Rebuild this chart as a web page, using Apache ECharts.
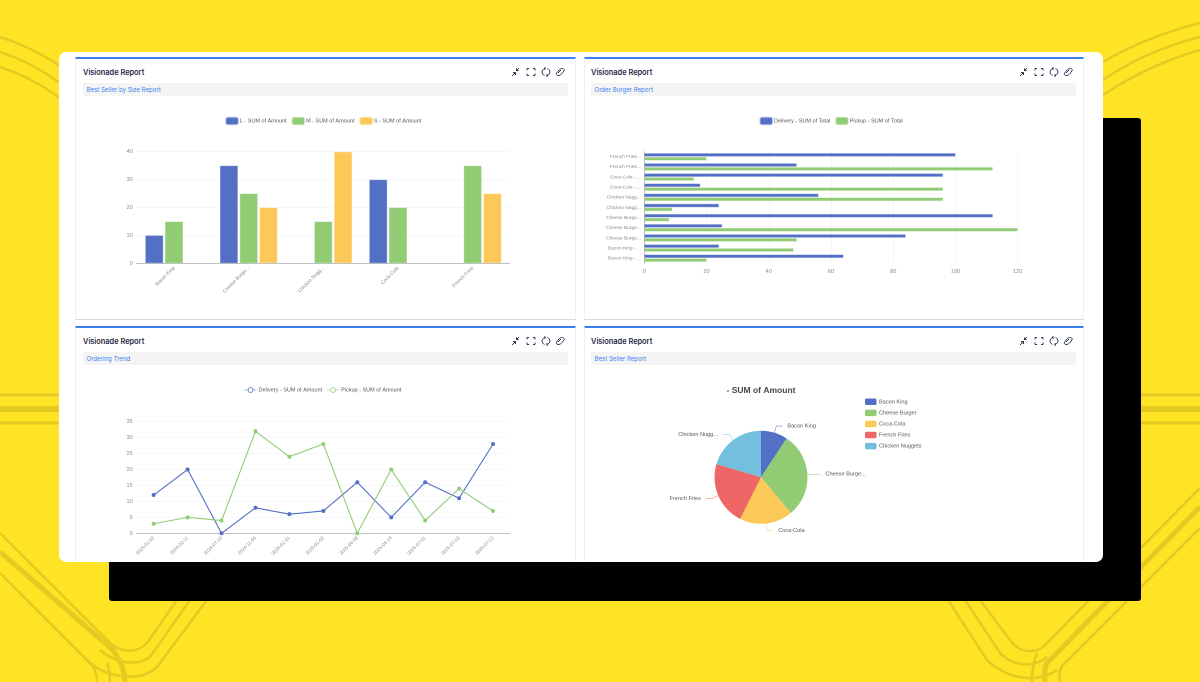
<!DOCTYPE html>
<html><head><meta charset="utf-8">
<style>
html,body{margin:0;padding:0;width:1200px;height:682px;overflow:hidden;background:#FFE325;font-family:Inter,"Liberation Sans",sans-serif}
#deco{position:absolute;left:0;top:0}
.black{position:absolute;left:109px;top:118px;width:1032px;height:483px;background:#000;border-radius:3px}
.card{position:absolute;left:59px;top:52px;width:1044px;height:510px;background:#fff;border-radius:7px;overflow:hidden}
.panel{position:absolute;box-sizing:border-box;width:501px;border-top:2px solid #3B82F0;border-left:1px solid #f0f0f2;border-right:1px solid #f0f0f2;background:#fff}
.p1{left:16px;top:5px;height:263px;border-bottom:1px solid #d9d9d9}
.p2{left:525px;width:500px;top:5px;height:263px;border-bottom:1px solid #d9d9d9}
.p3{left:16px;top:274px;height:240px}
.p4{left:525px;width:500px;top:274px;height:240px}
.t{position:absolute;left:7px;top:7.5px;font-size:7.4px;line-height:11px;font-weight:600;color:#1f2a44}
.s{position:absolute;left:7px;top:24px;width:485px;height:13px;background:#f4f4f4;color:#3b82f0;font-size:6.1px;line-height:13px;text-indent:3.5px}
.p2 .t,.p4 .t,.p2 .s,.p4 .s{left:6px}
.ic{position:absolute;left:435px;top:7.5px}
.p2 .ic,.p4 .ic{left:434px}
#chart{position:absolute;left:0;top:0;width:1200px;height:682px}
</style></head><body>
<svg id="deco" width="1200" height="682" fill="none" stroke="#E3CB22" stroke-width="2.5">
<path d="M0 37C22 44 42 54 60 66M0 52C22 59 42 70 60 83M0 67C22 74 42 85 60 98"/>
<path d="M1200 23C1165 32 1132 45 1103 62M1200 37C1165 46 1132 60 1103 80M1200 50C1165 60 1132 76 1103 95"/>
<path stroke-width="3" d="M0 395H60M0 423H60M1140 395H1200M1140 423H1200"/>
<path stroke-width="6" d="M0 409H60M1140 409H1200"/>
<path d="M0 533L110 643C118 651 136 655 147 643L177 600"/>
<path d="M0 573L90 663C95 668 97 675 97 682M107 663C110 670 110 676 110 682"/>
<path d="M100 650C112 661 135 668 150 657L190 600"/>
<path d="M90 663C105 676 140 684 157 667L207 600"/>
<path stroke-width="5" d="M0 552L113 650C120 660 125 672 125 682"/>
<path d="M1200 488L1043 647C1032 654 1018 652 1010 640L980 600"/>
<path d="M1200 528L1062 666C1058 672 1060 678 1060 682M1037 653C1032 665 1032 675 1032 682"/>
<path d="M965 600L1000 653C1015 668 1035 667 1047 657"/>
<path d="M948 600L987 660C1010 682 1040 682 1057 670"/>
<path stroke-width="5" d="M1200 507L1047 663C1043 670 1045 677 1045 682"/>
</svg>
<div class="black"></div>
<div class="card">
<div class="panel p1"><div class="t">Visionade Report</div><div class="s">Best Seller by Size Report</div></div>
<div class="panel p2"><div class="t">Visionade Report</div><div class="s">Order Burger Report</div></div>
<div class="panel p3"><div class="t">Visionade Report</div><div class="s">Ordering Trend</div></div>
<div class="panel p4"><div class="t">Visionade Report</div><div class="s">Best Seller Report</div></div>
</div>
<div id="chart"></div>
<script src="https://cdn.jsdelivr.net/npm/echarts@6/dist/echarts.min.js"></script>
<script>
// ---- data ----
const sizeCategories = ['Bacon King','Cheese Burge...','Chicken Nugg...','Coca-Cola','French Fries'];
const sizeL = [10,35,null,30,null];
const sizeM = [15,25,15,20,35];
const sizeS = [null,20,40,null,25];
const orderCategories = ['French Fries...','French Fries...','Coca-Cola - ...','Coca-Cola - ...','Chicken Nugg...','Chicken Nugg...','Cheese Burge...','Cheese Burge...','Cheese Burge...','Bacon King - ...','Bacon King - ...'];
const orderDelivery = [100,49,96,18,56,24,112,25,84,24,64];
const orderPickup = [20,112,16,96,96,9,8,120,49,48,20];
const trendDates = ['2023-01-02','2024-02-11','2024-07-10','2024-11-06','2025-01-01','2025-01-02','2025-04-08','2025-04-14','2025-07-01','2025-07-02','2025-07-12'];
const trendDelivery = [12,20,0,8,6,7,16,5,16,11,28];
const trendPickup = [3,5,4,32,24,28,0,20,4,14,7];
const pieNames = ['Bacon King','Cheese Burger','Coca-Cola','French Fries','Chicken Nuggets'];
const pieShort = ['Bacon King','Cheese Burge...','Coca-Cola','French Fries','Chicken Nugg...'];
const pieValues = [25,80,50,60,55];
const blue='#5470C6',green='#91CC75',yellow='#FCC858',red='#EE6666',sky='#73C0DE';
const pieColors=[blue,green,yellow,red,sky];
const halo={[blue]:'rgba(84,112,198,0.45)',[green]:'rgba(145,204,117,0.45)',[yellow]:'rgba(252,200,88,0.45)'};
const ff='"Liberation Sans",Arial,sans-serif', lab='#8a8a8a', grid='#f3f4f8', ax='#adb0b6';
const fs=5.5;
const ringIcon='path://M0 2.5H3.4V3.1H0ZM8.6 2.5H12V3.1H8.6ZM3.2 2.8A2.8 2.8 0 1 1 8.8 2.8A2.8 2.8 0 1 1 3.2 2.8ZM4 2.8A2 2 0 1 0 8 2.8A2 2 0 1 0 4 2.8Z';

function leg(names,left,top,icon,extra){return Object.assign({data:names,left,top,padding:0,itemWidth:11.5,itemHeight:6.5,itemGap:5,icon,textStyle:{fontSize:fs,fontFamily:ff,color:'#555',padding:[0,0,0,-3]},selectedMode:false},extra||{});}
const barStyle=c=>({color:c,borderColor:halo[c],borderWidth:1});
const lineLeg=(name,c)=>({name,icon:ringIcon,itemStyle:{color:c,borderWidth:0}});

const option={animation:false,backgroundColor:'transparent',
 title:[{text:'- SUM of Amount',left:761,top:386,padding:0,textAlign:'center',textStyle:{fontSize:8.5,fontWeight:'bold',color:'#464646',fontFamily:ff}}],
 legend:[
  leg(['L - SUM of Amount','M - SUM of Amount','S - SUM of Amount'],225.3,116.7,'roundRect'),
  leg(['Delivery - SUM of Total','Pickup - SUM of Total'],759.5,116.7,'roundRect'),
  leg([lineLeg('Delivery - SUM of Amount',blue),lineLeg('Pickup - SUM of Amount',green)],244.5,387,undefined,{itemWidth:12,itemHeight:5.6}),
  leg(pieNames,865,398.5,'roundRect',{orient:'vertical',itemGap:4.6,textStyle:{fontSize:5.6,fontFamily:ff,color:'#555',padding:[0,0,0,-2.5]}})
 ],
 grid:[
  {left:136.7,top:151.7,width:373.3,height:111.6},
  {left:644.3,top:151.7,width:373.4,height:111.6},
  {left:136.7,top:421.7,width:373.3,height:111.6}
 ],
 xAxis:[
  {gridIndex:0,type:'category',data:sizeCategories,axisLine:{lineStyle:{color:ax,width:0.8}},axisTick:{length:2.5,lineStyle:{color:ax,width:0.6}},axisLabel:{interval:0,rotate:45,fontSize:4.9,color:lab,fontFamily:ff,margin:4}},
  {gridIndex:1,type:'value',min:0,max:120,interval:20,axisLine:{show:false},axisTick:{show:false},axisLabel:{fontSize:5.6,color:lab,fontFamily:ff,margin:5},splitLine:{lineStyle:{color:grid,width:0.8}}},
  {gridIndex:2,type:'category',data:trendDates,boundaryGap:true,axisLine:{lineStyle:{color:ax,width:0.8}},axisTick:{length:2.5,lineStyle:{color:ax,width:0.6}},axisLabel:{interval:0,rotate:45,fontSize:4.7,color:lab,fontFamily:ff,margin:4}}
 ],
 yAxis:[
  {gridIndex:0,type:'value',min:0,max:40,interval:10,axisLine:{show:false},axisTick:{show:false},axisLabel:{fontSize:5.6,color:lab,fontFamily:ff,margin:4},splitLine:{lineStyle:{color:grid,width:0.8}}},
  {gridIndex:1,type:'category',inverse:true,data:orderCategories,axisLine:{lineStyle:{color:ax,width:0.8}},axisTick:{length:2.5,lineStyle:{color:ax,width:0.6}},axisLabel:{interval:0,fontSize:4.8,color:lab,fontFamily:ff,margin:3.5}},
  {gridIndex:2,type:'value',min:0,max:35,interval:5,axisLine:{show:false},axisTick:{show:false},axisLabel:{fontSize:5.6,color:lab,fontFamily:ff,margin:4},splitLine:{lineStyle:{color:grid,width:0.8}}}
 ],
 series:[
  {name:'L - SUM of Amount',type:'bar',xAxisIndex:0,yAxisIndex:0,data:sizeL,itemStyle:barStyle(blue)},
  {name:'M - SUM of Amount',type:'bar',xAxisIndex:0,yAxisIndex:0,data:sizeM,itemStyle:barStyle(green)},
  {name:'S - SUM of Amount',type:'bar',xAxisIndex:0,yAxisIndex:0,data:sizeS,itemStyle:barStyle(yellow)},
  {name:'Delivery - SUM of Total',type:'bar',xAxisIndex:1,yAxisIndex:1,data:orderDelivery,itemStyle:barStyle(blue)},
  {name:'Pickup - SUM of Total',type:'bar',xAxisIndex:1,yAxisIndex:1,data:orderPickup,itemStyle:barStyle(green)},
  {name:'Delivery - SUM of Amount',type:'line',xAxisIndex:2,yAxisIndex:2,data:trendDelivery,symbol:'emptyCircle',symbolSize:2,lineStyle:{width:1.1,color:blue},itemStyle:{color:blue,borderColor:blue,borderWidth:0.6}},
  {name:'Pickup - SUM of Amount',type:'line',xAxisIndex:2,yAxisIndex:2,data:trendPickup,symbol:'emptyCircle',symbolSize:2,lineStyle:{width:1.1,color:green},itemStyle:{color:green,borderColor:green,borderWidth:0.6}},
  {type:'pie',center:[761,477.3],radius:46.5,startAngle:90,clockwise:true,
   data:pieNames.map((n,i)=>({name:n,value:pieValues[i],itemStyle:{color:pieColors[i]}})),
   label:{fontSize:5.6,color:'#555',fontFamily:ff,formatter:p=>pieShort[p.dataIndex]},
   labelLine:{length:7,length2:6,lineStyle:{width:0.5}},
   emphasis:{disabled:true}}
 ]
};
const chart=echarts.init(document.getElementById('chart'),null,{devicePixelRatio:2});
chart.setOption(option);
// header icons
const icons=`<svg class="ic" width="60" height="10" viewBox="0 0 60 10" fill="none" stroke="#2a3550" stroke-width="1"><path d="M1 9L4 6M2 5.5H4.5V8M8 1L5.5 3.5M5.5 1.5V3.5H7.5" fill="#2a3550"/><path d="M16 3.5V1.5H18M22 1.5H24V3.5M24 6.5V8.5H22M18 8.5H16V6.5"/><path d="M34 1.5C32 2 31 4 31 5S32 8 33.5 8.5M36 8.5C38 8 39 6 39 5S38 2 36.5 1.5M34 0V3M36 7V10"/><path d="M47 6L50 3M46.5 4.5L48 3C49 2 50 1.5 51.5 1.5S53.5 3 53 4L51.5 5.5M52 5.5L50.5 7C49.5 8 48.5 8.5 47 8.5S45 7 45.5 6L47 4.5"/></svg>`;
document.querySelectorAll('.panel').forEach(p=>p.insertAdjacentHTML('beforeend',icons));
</script>
</body></html>
